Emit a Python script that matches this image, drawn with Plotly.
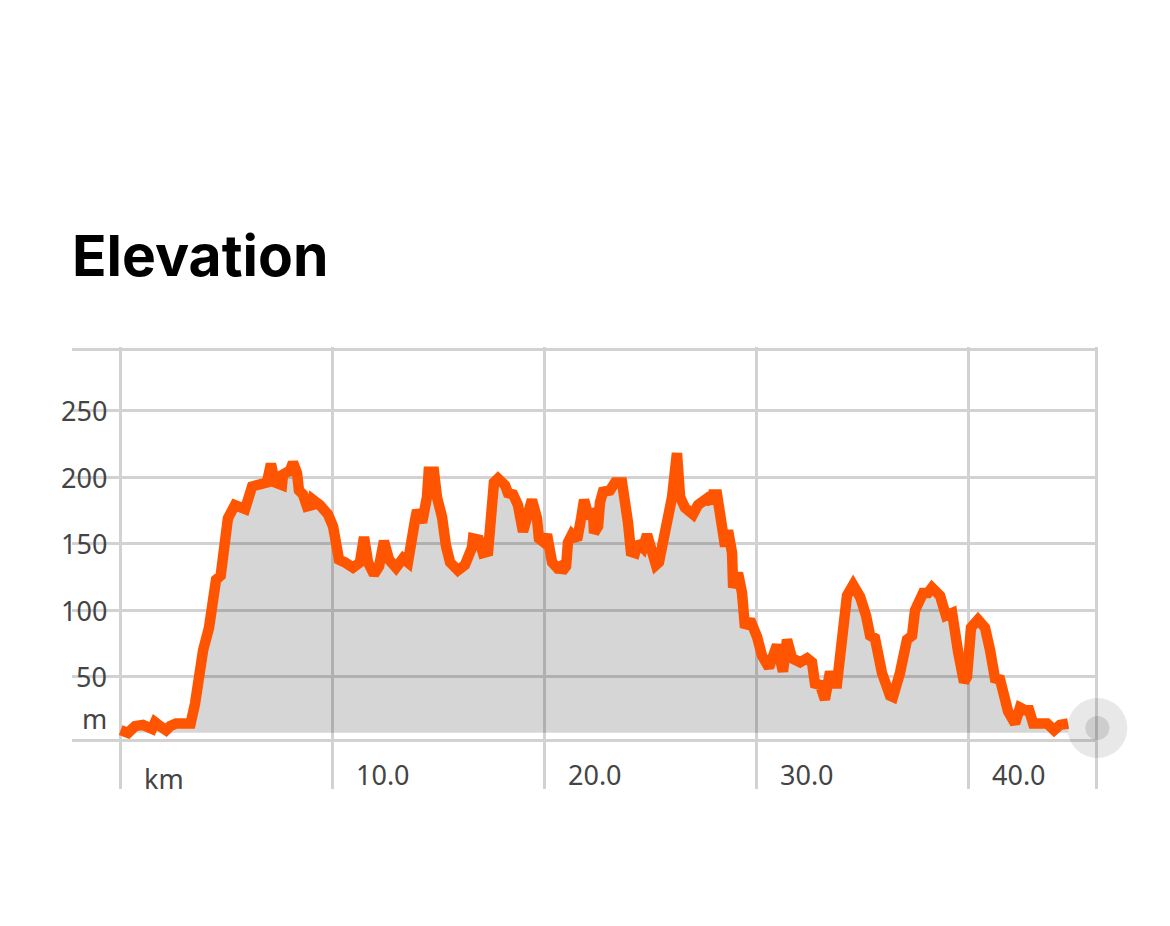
import plotly.graph_objects as go

# distance along the route (km) and elevation (m)
km = [0.03, 0.38, 0.71, 1.08, 1.51, 1.65, 1.89, 2.17, 2.36, 2.64, 2.97, 3.33, 3.54, 3.68, 3.92, 4.20, 4.43, 4.53, 4.75, 4.91,
      5.09, 5.42, 5.90, 6.23, 6.60, 6.93, 7.12, 7.31, 7.64, 7.69, 8.02, 8.16, 8.35, 8.44, 8.63, 8.82, 9.06, 9.10, 9.43, 9.81,
      10.05, 10.33, 10.61, 10.99, 11.32, 11.51, 11.70, 11.98, 12.22, 12.45, 12.69, 13.02, 13.35, 13.58, 13.92, 14.01, 14.25, 14.48, 14.56, 14.81,
      14.95, 15.19, 15.38, 15.57, 15.94, 16.27, 16.60, 16.65, 16.93, 17.12, 17.36, 17.41, 17.64, 17.83, 18.16, 18.30, 18.54, 18.77, 18.92, 19.01,
      19.20, 19.43, 19.67, 19.76, 20.00, 20.14, 20.38, 20.61, 20.75, 20.85, 21.04, 21.13, 21.32, 21.56, 21.75, 21.89, 22.08, 22.31, 22.36, 22.55,
      22.64, 22.78, 23.11, 23.35, 23.68, 23.82, 23.96, 24.10, 24.29, 24.43, 24.67, 24.86, 25.09, 25.28, 25.42, 25.61, 25.80, 26.04, 26.27, 26.42,
      26.65, 27.03, 27.26, 27.69, 27.88, 27.97, 28.16, 28.40, 28.54, 28.68, 28.87, 28.92, 29.15, 29.34, 29.48, 29.72, 29.86, 30.05, 30.28, 30.61,
      30.99, 31.27, 31.46, 31.70, 32.08, 32.41, 32.64, 32.78, 33.02, 33.25, 33.49, 33.63, 33.82, 33.96, 34.15, 34.29, 34.58, 34.91, 35.19, 35.38,
      35.61, 35.94, 36.32, 36.46, 36.79, 37.12, 37.36, 37.50, 37.88, 38.11, 38.30, 38.68, 38.96, 39.25, 39.53, 39.81, 39.95, 40.14, 40.47, 40.80,
      41.04, 41.27, 41.51, 41.89, 42.22, 42.45, 42.69, 42.88, 43.07, 43.73, 44.06, 44.34, 44.72]
elevation = [10, 8, 13, 14, 11, 16, 13, 10, 13, 15, 15, 15, 30, 50, 70, 87, 110, 123, 126, 148,
             169, 179, 176, 193, 194, 196, 210, 196, 194, 202, 205, 211, 203, 190, 187, 178, 179, 183, 179, 172,
             163, 138, 136, 132, 136, 155, 136, 127, 133, 152, 138, 132, 139, 136, 168, 175, 166, 185, 204, 204,
             185, 170, 148, 136, 130, 134, 147, 154, 153, 143, 144, 160, 196, 199, 194, 188, 187, 179, 162, 159,
             170, 183, 169, 154, 151, 157, 136, 132, 133, 129, 133, 151, 157, 153, 169, 183, 172, 173, 158, 163,
             181, 189, 190, 196, 196, 183, 166, 144, 143, 151, 147, 157, 143, 134, 136, 153, 173, 185, 218, 185,
             177, 172, 179, 184, 181, 187, 187, 166, 148, 160, 143, 117, 128, 113, 87, 93, 89, 80, 66, 57,
             74, 54, 78, 64, 61, 64, 61, 45, 44, 33, 54, 45, 45, 66, 78, 111, 119, 110, 96, 81,
             79, 53, 36, 35, 53, 78, 81, 100, 113, 113, 117, 111, 96, 98, 69, 46, 50, 87, 93, 87,
             70, 49, 48, 24, 15, 27, 25, 25, 15, 15, 10, 14, 15]
floor_elevation = 8

x_grid = [0, 10, 20, 30, 40, 46.04]
x_labels = ["km", "10.0", "20.0", "30.0", "40.0"]
y_grid = [2, 50, 100, 150, 200, 250, 296.2]
y_labels = ["50", "100", "150", "200", "250"]
end_km = 46.1
end_elevation = 11.6

fig = go.Figure()
fig.add_trace(go.Scatter(x=km, y=[floor_elevation] * len(km), mode="lines", line=dict(width=0), hoverinfo="skip"))
fig.add_trace(go.Scatter(x=km, y=elevation, mode="lines", fill="tonexty", fillcolor="rgba(0,0,0,0.16)",
                         line=dict(color="#ff5500", width=10.5)))
# end of route handle
fig.add_trace(go.Scatter(x=[end_km, end_km], y=[end_elevation, end_elevation], mode="markers", cliponaxis=False,
                         marker=dict(size=[60, 24], color=["rgba(0,0,0,0.13)", "rgba(0,0,0,0.16)"], line=dict(width=0))))

label_font = dict(family="Noto Sans", size=27, color="#444444")
annotations = [dict(x=-0.5, y=float(v), xref="x", yref="y", text=v, xanchor="right", yanchor="middle",
                    showarrow=False, font=label_font) for v in y_labels]
annotations.append(dict(x=-0.5, y=19, xref="x", yref="y", text="m", xanchor="right", yanchor="middle",
                        showarrow=False, font=label_font))
for tick, label in zip(x_grid, x_labels):
    annotations.append(dict(x=tick, y=-26 if label == "km" else -23, xref="x", yref="y", text=label, xanchor="left",
                            yanchor="middle", xshift=22, showarrow=False, font=label_font))

# the page body has an 8px margin, so the figure is 16px smaller than the window
fig.update_layout(
    width=1154, height=910, showlegend=False,
    margin=dict(l=64, r=64, t=339, b=129),
    paper_bgcolor="white", plot_bgcolor="white",
    title=dict(text="<b>Elevation</b>", x=64 / 1154, xanchor="left", xref="container",
               y=1 - 248 / 910, yanchor="middle", yref="container",
               font=dict(family="Inter", size=57, color="black")),
    annotations=annotations,
    xaxis=dict(range=[-2.264, 46.13], tickvals=x_grid, showticklabels=False, showgrid=True,
               gridcolor="#d2d2d2", gridwidth=3, zeroline=False, showline=False, ticks=""),
    yaxis=dict(range=[-34.16, 297.7], tickvals=y_grid, showticklabels=False, showgrid=True,
               gridcolor="#d2d2d2", gridwidth=3, zeroline=False, showline=False, ticks=""),
)

fig.write_html("out.html")
